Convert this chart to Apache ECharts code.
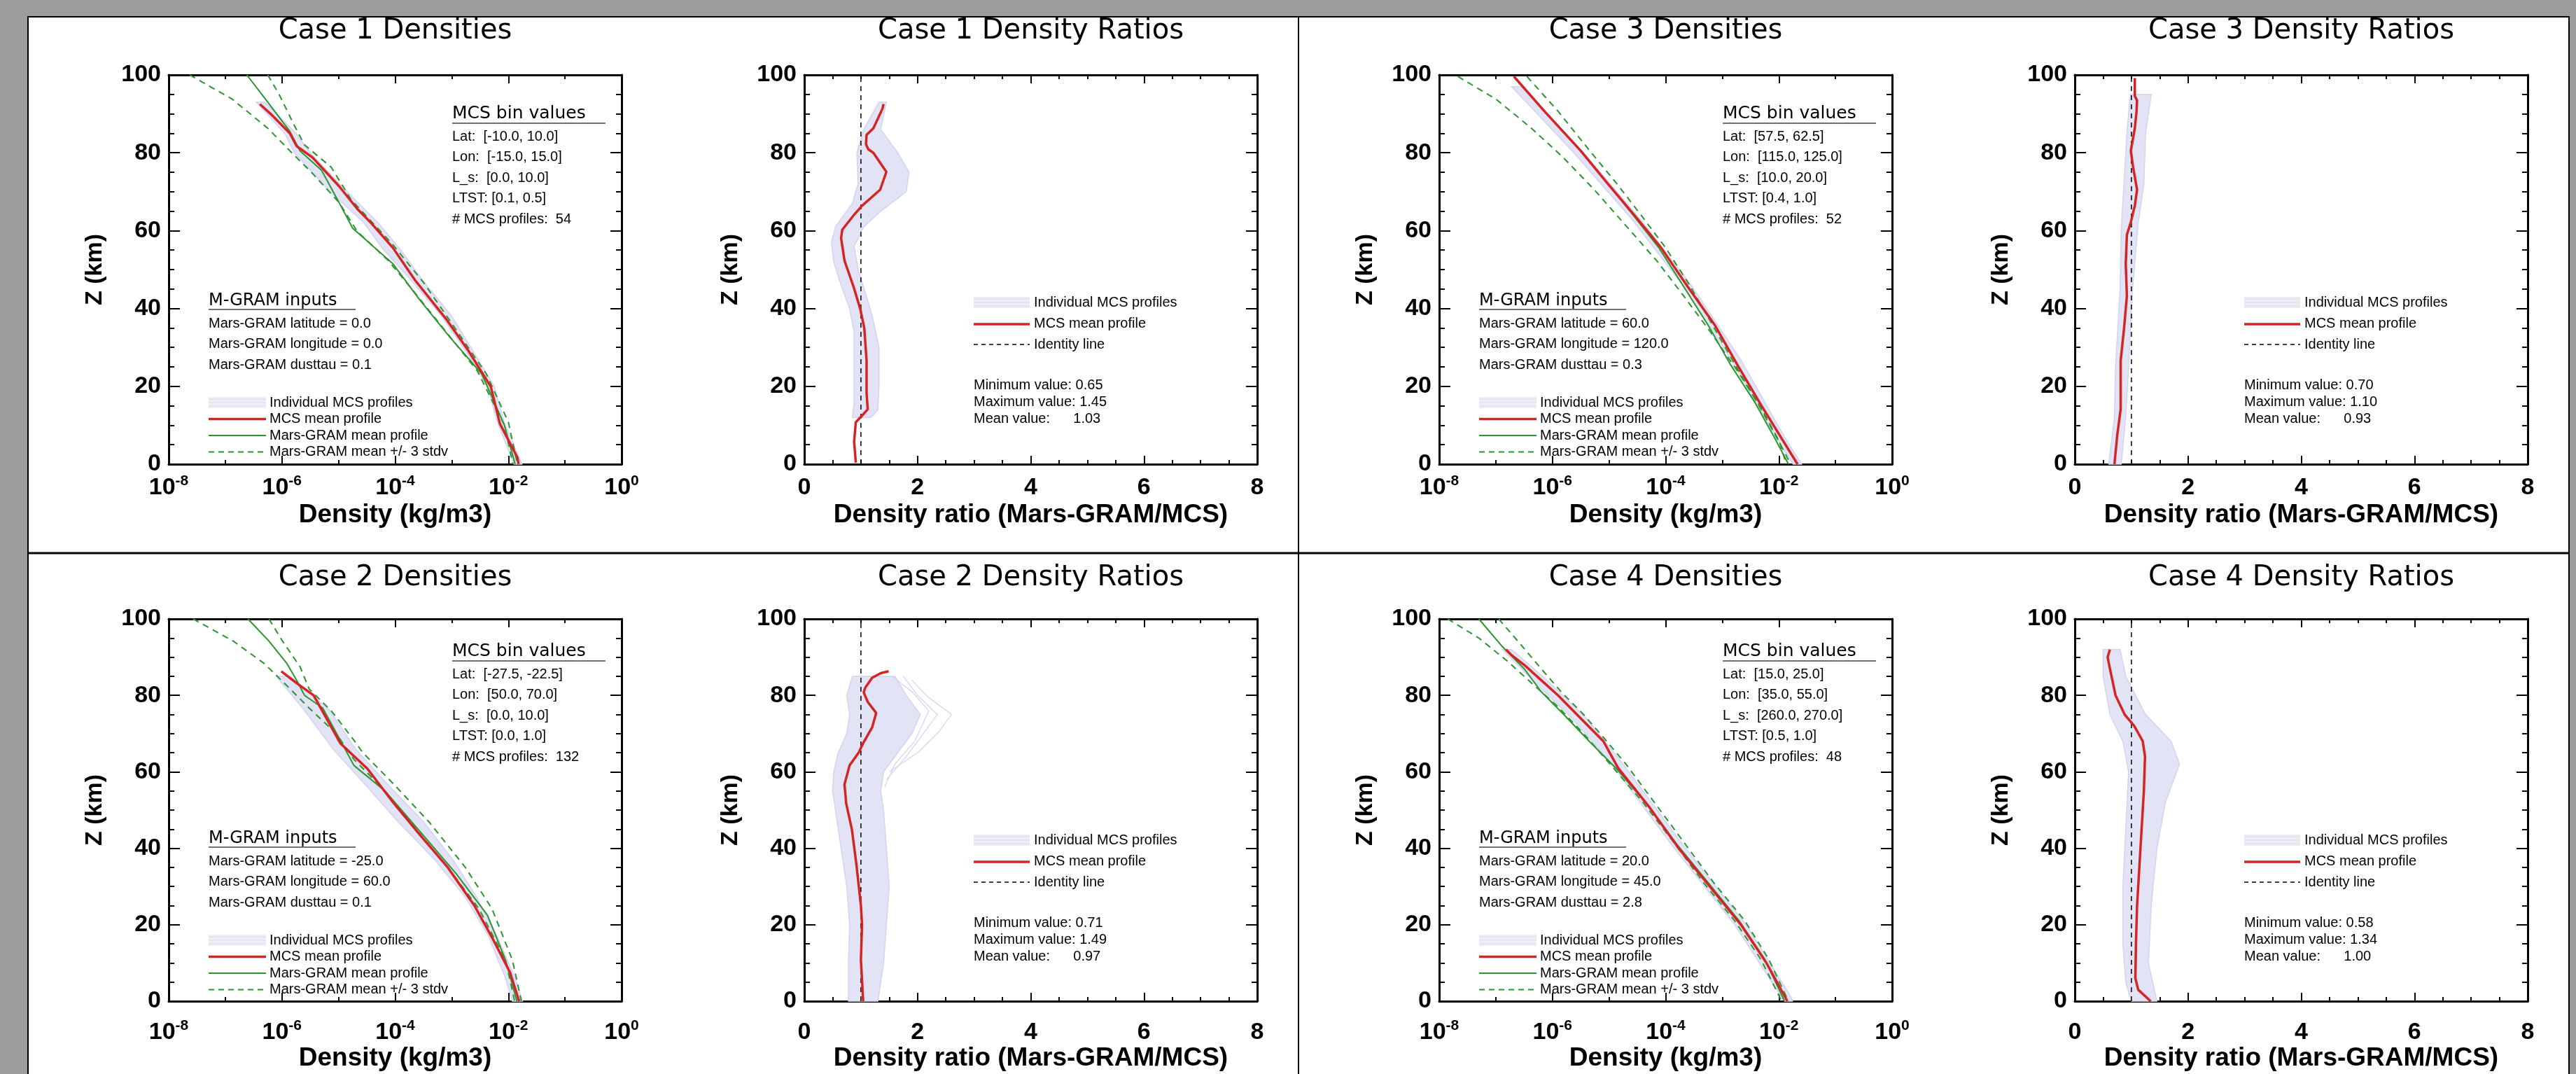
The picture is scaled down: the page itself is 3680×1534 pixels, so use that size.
<!DOCTYPE html>
<html>
<head>
<meta charset="utf-8">
<title>MCS vs Mars-GRAM density comparisons</title>
<script src="https://cdn.jsdelivr.net/npm/echarts@6/dist/echarts.min.js"></script>
<style>
html, body { margin: 0; padding: 0; background: #9c9c9c; }
#chart { width: 3680px; height: 1534px; }
</style>
</head>
<body>
<div id="chart"></div>
<script>
// density panels: [log10 density (kg/m3), altitude (km)]
const case1McsMean = [[-6.39,92.5],[-6.2,90],[-5.86,85],[-5.74,81.7],[-5.46,78.8],[-4.99,71.4],[-4.67,65.6],[-4.44,62.2],[-4.04,55.6],[-3.65,47.3],[-3.1,37.3],[-2.7,29],[-2.31,19.9],[-2.15,10.4],[-1.84,1.7],[-1.82,0]];
const case1GramMean = [[-6.62,100],[-6.25,93],[-5.86,85.5],[-5.68,80.5],[-5.3,75.5],[-4.99,67.2],[-4.75,60.6],[-4.04,51.5],[-3.57,42.3],[-3.02,32.4],[-2.47,23.2],[-2.07,10],[-1.88,0]];
const case1GramHi = [[-6.25,100],[-6.05,95],[-5.78,87],[-5.6,82],[-5.13,76.3],[-4.78,68],[-4.57,64.7],[-4.04,56.4],[-3.49,46.5],[-2.94,34.9],[-2.39,23.2],[-2,10.8],[-1.84,0]];
const case1GramLo = [[-7.63,100],[-6.88,93.8],[-6.25,86.3],[-5.86,80.5],[-5.46,74.7],[-4.99,67.2],[-4.67,59.8],[-4.12,52.3],[-3.65,44],[-3.1,34],[-2.55,24],[-2.07,10],[-1.92,0]];
const case1ProfLeft = [[-6.45,93],[-5.95,85],[-5.78,80],[-5.15,70],[-4.55,62],[-4.2,55],[-3.7,47],[-3.18,38],[-2.75,29],[-2.37,20],[-2.2,11],[-1.9,0]];
const case1ProfRight = [[-6.3,93],[-5.75,85],[-5.5,80],[-4.85,70],[-4.3,62],[-3.9,55],[-3.5,47],[-3,38],[-2.62,29],[-2.25,20],[-2.08,11],[-1.76,0]];

const case2McsMean = [[-6.01,86.3],[-5.75,83.3],[-5.44,80],[-4.97,67.5],[-4.49,60.8],[-4.02,51.7],[-3.55,43.3],[-3.07,35],[-2.6,25],[-2.29,16.7],[-1.97,7.5],[-1.81,0]];
const case2GramMean = [[-6.6,100],[-6.23,94.2],[-5.91,88.3],[-5.75,84.2],[-5.6,80],[-5.28,76.7],[-4.97,68.3],[-4.73,61.7],[-4.18,55],[-3.55,44.2],[-2.92,33.3],[-2.37,22.5],[-2.05,10.8],[-1.85,0]];
const case2GramHi = [[-6.23,100],[-5.99,94.2],[-5.68,87.5],[-5.52,81.7],[-5.12,75.8],[-4.73,68.3],[-4.57,65],[-4.02,56.7],[-3.39,46.7],[-2.76,35],[-2.29,24.2],[-1.93,10.8],[-1.77,0]];
const case2GramLo = [[-7.57,100],[-6.86,94.2],[-6.31,88.3],[-5.91,82.5],[-5.52,76.7],[-5.04,70],[-4.73,63.3],[-4.18,55],[-3.63,45],[-3.07,35],[-2.52,24.2],[-2.05,10.8],[-1.89,0]];
const case2ProfLeft = [[-6.1,85],[-5.6,76],[-5.1,66],[-4.55,57],[-3.95,47],[-3.3,37],[-2.75,27],[-2.35,17],[-2.05,6],[-1.93,0]];
const case2ProfRight = [[-5.85,85],[-5.15,76],[-4.7,66],[-4.15,57],[-3.5,47],[-2.98,37],[-2.55,27],[-2.2,17],[-1.88,6],[-1.75,0]];

const case3McsMean = [[-6.68,99.6],[-6.13,90.5],[-5.5,80.5],[-5.03,72.2],[-4.55,63.9],[-4.08,55.6],[-3.61,45.6],[-3.13,35.7],[-2.74,25.7],[-2.34,15.8],[-1.95,6.6],[-1.67,0]];
const case3GramMean = [[-6.68,99.6],[-6.13,90.5],[-5.5,80.5],[-5.03,72.2],[-4.57,63.9],[-4.12,55.6],[-3.68,45.6],[-3.25,35.7],[-2.86,25.7],[-2.42,15.8],[-2.07,6.6],[-1.83,0]];
const case3GramHi = [[-6.45,99.6],[-5.89,90.5],[-5.34,80.5],[-4.87,72.2],[-4.43,63.9],[-4,55.6],[-3.56,45.6],[-3.17,35.7],[-2.78,25.7],[-2.38,15.8],[-2.03,6.6],[-1.79,0]];
const case3GramLo = [[-7.67,99.6],[-7,93.8],[-6.37,86.3],[-5.81,78.8],[-5.26,70.5],[-4.71,61.4],[-4.16,52.3],[-3.68,43.2],[-3.21,34],[-2.74,24.1],[-2.3,14.1],[-1.99,5.8],[-1.87,0]];
const case3ProfLeft = [[-6.72,97],[-5.62,80],[-4.6,63],[-3.7,46],[-2.85,27],[-2.05,7],[-1.75,0]];
const case3ProfRight = [[-6.55,97],[-5.45,80],[-4.45,63],[-3.55,46],[-2.68,27],[-1.9,7],[-1.6,0]];

const case4McsMean = [[-6.82,92],[-6.72,90.5],[-6.5,88],[-6.2,84],[-5.9,80],[-5.5,74],[-5.1,68],[-4.84,61],[-4.3,51],[-3.77,40],[-3.22,30],[-2.67,20],[-2.22,10],[-1.85,0]];
const case4GramMean = [[-7.3,100],[-6.9,93],[-6.5,87],[-6.2,81],[-5.8,75],[-5.35,68],[-4.88,61],[-4.3,51],[-3.8,41],[-3.25,31],[-2.7,21],[-2.25,11],[-1.9,0]];
const case4GramHi = [[-6.95,100],[-6.6,94],[-6.2,87],[-5.85,81],[-5.45,75],[-5.1,69],[-4.7,62],[-4.2,52],[-3.7,42],[-3.15,31],[-2.6,21],[-2.18,11],[-1.83,0]];
const case4GramLo = [[-7.85,100],[-7.3,95],[-6.8,89],[-6.35,83],[-5.9,77],[-5.45,70],[-4.98,62],[-4.4,52],[-3.88,42],[-3.33,31],[-2.78,21],[-2.32,11],[-1.95,0]];
const case4ProfLeft = [[-6.88,92],[-6.35,84],[-5.65,74],[-4.95,62],[-3.9,41],[-2.78,20],[-1.95,1],[-1.9,0]];
const case4ProfRight = [[-6.72,92],[-6.1,84],[-5.4,74],[-4.75,62],[-3.7,41],[-2.58,20],[-1.78,1],[-1.76,0]];

// ratio panels: [Mars-GRAM/MCS, altitude (km)]
const case1RatioMean = [[1.4,92.5],[1.38,91.3],[1.22,86.3],[1.1,84.6],[1.09,82.2],[1.13,80.9],[1.22,80],[1.45,75.1],[1.34,70.5],[1.02,66.4],[0.87,63.9],[0.67,60.2],[0.65,58.1],[0.71,52.3],[0.87,45.6],[0.99,39.8],[1.06,34.9],[1.1,26.6],[1.1,18.3],[1.12,14.1],[0.99,12],[0.91,10.8],[0.88,5.8],[0.91,0.4]];
const case1RatioLeft = [[1.32,93],[1.05,86],[0.93,80],[0.95,72],[0.85,67],[0.55,61],[0.48,57],[0.52,52],[0.65,46],[0.8,40],[0.88,34],[0.88,25],[0.88,16],[0.85,12]];
const case1RatioRight = [[1.45,93],[1.35,86],[1.65,80],[1.85,75],[1.8,70],[1.35,65],[1.05,61],[0.88,56],[0.95,50],[1.08,44],[1.2,38],[1.32,30],[1.32,20],[1.3,14],[1.18,12]];

const case2RatioMean = [[1.49,86.3],[1.35,85.8],[1.2,84.6],[1.08,82.1],[1.05,80.8],[1.12,78.3],[1.27,75.4],[1.2,71.7],[1.04,67.5],[0.96,65],[0.8,61.7],[0.71,56.7],[0.74,51.7],[0.84,45],[0.92,35.8],[1,25],[1.02,20],[1,10.8],[1.04,0]];
const case2RatioLeft = [[0.85,85],[0.75,80],[0.8,75],[0.75,70],[0.6,65],[0.52,60],[0.5,55],[0.55,50],[0.65,40],[0.75,30],[0.8,20],[0.78,10],[0.78,0]];
const case2RatioRight = [[1.6,85],[1.8,80],[2.05,75],[1.9,70],[1.65,65],[1.4,60],[1.35,55],[1.4,50],[1.45,40],[1.5,30],[1.45,20],[1.4,10],[1.3,0]];
const case2RatioStrandA = [[1.75,85],[2.0,80],[2.35,75],[2.1,70],[1.8,64],[1.45,58]];
const case2RatioStrandB = [[1.9,84],[2.15,80],[2.6,75],[2.35,70],[2.0,65],[1.5,60]];
const case2RatioStrandC = [[1.55,85],[1.9,81],[2.2,76],[1.95,68],[1.6,62],[1.42,56]];

const case3RatioMean = [[1.06,99.2],[1.06,94.6],[1.1,93.4],[1.09,90.5],[1.06,86.3],[0.99,80.5],[1.03,76.3],[1.1,70.5],[1.06,66.4],[0.99,62.2],[0.92,58.9],[0.9,51.5],[0.92,43.2],[0.87,34.9],[0.81,26.6],[0.81,18.3],[0.81,14.1],[0.75,7.5],[0.7,0]];
const case3RatioLeft = [[0.98,95],[0.92,85],[0.88,75],[0.82,60],[0.8,45],[0.72,25],[0.7,12],[0.6,0]];
const case3RatioRight = [[1.35,95],[1.25,85],[1.22,72],[1.12,62],[1.02,45],[0.95,25],[0.9,12],[0.82,0]];

const case4RatioMean = [[0.62,92],[0.58,90],[0.62,87],[0.72,80],[0.88,75],[1.05,72],[1.2,68],[1.24,64],[1.22,55],[1.18,45],[1.14,35],[1.1,25],[1.08,15],[1.07,6],[1.12,3],[1.34,0]];
const case4RatioLeft = [[0.5,92],[0.5,85],[0.62,75],[0.85,68],[0.95,60],[0.9,45],[0.85,30],[0.85,15],[0.9,5],[1,0]];
const case4RatioRight = [[0.8,92],[0.9,85],[1.25,75],[1.7,68],[1.85,62],[1.6,52],[1.45,40],[1.35,25],[1.3,10],[1.45,0]];

// annotation texts
const case1Bins = ['Lat:  [-10.0, 10.0]', 'Lon:  [-15.0, 15.0]', 'L_s:  [0.0, 10.0]', 'LTST: [0.1, 0.5]', '# MCS profiles:  54'];
const case2Bins = ['Lat:  [-27.5, -22.5]', 'Lon:  [50.0, 70.0]', 'L_s:  [0.0, 10.0]', 'LTST: [0.0, 1.0]', '# MCS profiles:  132'];
const case3Bins = ['Lat:  [57.5, 62.5]', 'Lon:  [115.0, 125.0]', 'L_s:  [10.0, 20.0]', 'LTST: [0.4, 1.0]', '# MCS profiles:  52'];
const case4Bins = ['Lat:  [15.0, 25.0]', 'Lon:  [35.0, 55.0]', 'L_s:  [260.0, 270.0]', 'LTST: [0.5, 1.0]', '# MCS profiles:  48'];
const case1Inputs = ['0.0', '0.0', '0.1'];
const case2Inputs = ['-25.0', '60.0', '0.1'];
const case3Inputs = ['60.0', '120.0', '0.3'];
const case4Inputs = ['20.0', '45.0', '2.8'];
const case1Stats = ['0.65', '1.45', '1.03'];
const case2Stats = ['0.71', '1.49', '0.97'];
const case3Stats = ['0.70', '1.10', '0.93'];
const case4Stats = ['0.58', '1.34', '1.00'];

const RED = '#d42424', GREEN = '#2a9630', LAV = '#e3e3f6', LAV_EDGE = '#d3d3ef';
const SMALL = '"Liberation Sans", Arial, sans-serif';
const BIG = '"DejaVu Sans", sans-serif';

const cases = [
  { n: 1, col: 0, row: 0, mean: case1McsMean, gram: case1GramMean, hi: case1GramHi, lo: case1GramLo, pl: case1ProfLeft, pr: case1ProfRight,
    ratio: case1RatioMean, rl: case1RatioLeft, rr: case1RatioRight, strands: [], bins: case1Bins, inputs: case1Inputs, stats: case1Stats },
  { n: 3, col: 1, row: 0, mean: case3McsMean, gram: case3GramMean, hi: case3GramHi, lo: case3GramLo, pl: case3ProfLeft, pr: case3ProfRight,
    ratio: case3RatioMean, rl: case3RatioLeft, rr: case3RatioRight, strands: [], bins: case3Bins, inputs: case3Inputs, stats: case3Stats },
  { n: 2, col: 0, row: 1, mean: case2McsMean, gram: case2GramMean, hi: case2GramHi, lo: case2GramLo, pl: case2ProfLeft, pr: case2ProfRight,
    ratio: case2RatioMean, rl: case2RatioLeft, rr: case2RatioRight, strands: [case2RatioStrandA, case2RatioStrandB, case2RatioStrandC],
    bins: case2Bins, inputs: case2Inputs, stats: case2Stats },
  { n: 4, col: 1, row: 1, mean: case4McsMean, gram: case4GramMean, hi: case4GramHi, lo: case4GramLo, pl: case4ProfLeft, pr: case4ProfRight,
    ratio: case4RatioMean, rl: case4RatioLeft, rr: case4RatioRight, strands: [], bins: case4Bins, inputs: case4Inputs, stats: case4Stats }
];

// layout (pixels)
const quadLeft = [40, 1855];
const plotTop = [107, 884];
const plotH = [556, 546];
const textTop = [81, 849];
const titleY = [45, 826];
const labelMargin = [14, 25];
const nameGap = [54, 59];
const PW = 647;

const tickLabel = { fontFamily: SMALL, fontWeight: 'bold', fontSize: 34, color: '#000' };
const nameStyle = { fontFamily: SMALL, fontWeight: 'bold', fontSize: 37, color: '#000' };

function xAxis(g, dens, mirror, row) {
  return {
    type: 'value', gridIndex: g, position: mirror ? 'top' : 'bottom',
    min: dens ? -8 : 0, max: dens ? 0 : 8, interval: 2,
    axisLine: { onZero: false, lineStyle: { color: '#000', width: 3 } },
    axisTick: { inside: true, length: 12, lineStyle: { color: '#000', width: 2 } },
    minorTick: { show: true, splitNumber: dens ? 2 : 4, length: 6, lineStyle: { color: '#000', width: 2 } },
    splitLine: { show: false }, minorSplitLine: { show: false },
    axisLabel: mirror ? { show: false } : (dens ? {
      margin: labelMargin[row],
      formatter: v => '{b|10}{s|' + v + '}',
      rich: {
        b: { fontFamily: SMALL, fontWeight: 'bold', fontSize: 34, lineHeight: 40, color: '#000' },
        s: { fontFamily: SMALL, fontWeight: 'bold', fontSize: 21, lineHeight: 22, verticalAlign: 'top', color: '#000' }
      }
    } : Object.assign({ margin: labelMargin[row] + 3 }, tickLabel)),
    name: mirror ? '' : (dens ? 'Density (kg/m3)' : 'Density ratio (Mars-GRAM/MCS)'),
    nameLocation: 'middle', nameGap: nameGap[row], nameTextStyle: nameStyle
  };
}

function yAxis(g, mirror) {
  return {
    type: 'value', gridIndex: g, position: mirror ? 'right' : 'left',
    min: 0, max: 100, interval: 20,
    axisLine: { onZero: false, lineStyle: { color: '#000', width: 3 } },
    axisTick: { inside: true, length: 16, lineStyle: { color: '#000', width: 2 } },
    minorTick: { show: true, splitNumber: 4, length: 8, lineStyle: { color: '#000', width: 2 } },
    splitLine: { show: false }, minorSplitLine: { show: false },
    axisLabel: mirror ? { show: false } : Object.assign({ margin: 11 }, tickLabel),
    name: mirror ? '' : 'Z (km)', nameLocation: 'middle', nameGap: 88, nameRotate: 90,
    nameTextStyle: { fontFamily: SMALL, fontWeight: 'bold', fontSize: 34, color: '#000' }
  };
}

function line(g, data, color, width, dash, z) {
  return {
    type: 'line', xAxisIndex: 2 * g, yAxisIndex: 2 * g, data: data,
    symbol: 'none', showSymbol: false, silent: true, z: z,
    lineStyle: { color: color, width: width, type: dash || 'solid' }
  };
}

function band(g, left, right) {
  return {
    type: 'custom', xAxisIndex: 2 * g, yAxisIndex: 2 * g, data: left, silent: true, z: 1,
    renderItem: function (params, api) {
      if (params.dataIndex !== 0) return null;
      const pts = left.map(p => api.coord(p)).concat(right.slice().reverse().map(p => api.coord(p)));
      return { type: 'polygon', shape: { points: pts }, style: { fill: LAV, stroke: LAV_EDGE, lineWidth: 1.5 } };
    }
  };
}

function text(x, y, s, size, family, weight) {
  return { type: 'text', x: x, y: y, z: 50, silent: true,
    style: { text: s, fontSize: size, fontFamily: family, fontWeight: weight || 'normal', fill: '#000',
      align: 'left', verticalAlign: 'middle', textAlign: 'left', textVerticalAlign: 'middle' } };
}

function seg(x1, y1, x2, y2, color, width, dash) {
  return { type: 'line', z: 50, silent: true, shape: { x1: x1, y1: y1, x2: x2, y2: y2 },
    style: { stroke: color, lineWidth: width, lineDash: dash || null } };
}

function profileSwatch(x, y, w) {
  return [
    { type: 'rect', z: 49, silent: true, shape: { x: x, y: y - 8, width: w, height: 16 }, style: { fill: '#eeeef6' } },
    seg(x, y - 5, x + w, y - 5, '#dadaea', 1),
    seg(x, y, x + w, y, '#dadaea', 1),
    seg(x, y + 5, x + w, y + 5, '#dadaea', 1)
  ];
}

const grids = [], xAxes = [], yAxes = [], series = [], titles = [];
const graphics = [
  { type: 'rect', z: -10, silent: true, shape: { x: 40, y: 24, width: 3630, height: 1530 }, style: { fill: '#fff', stroke: '#000', lineWidth: 2 } },
  seg(1855, 24, 1855, 1534, '#000', 2),
  seg(40, 790, 3670, 790, '#000', 3)
];

cases.forEach(function (c, k) {
  const T = plotTop[c.row], H = plotH[c.row], A = textTop[c.row];
  const dL = quadLeft[c.col] + 201;
  const rL = quadLeft[c.col] + 1109;
  const gd = 2 * k, gr = 2 * k + 1;

  grids.push({ left: dL, top: T, width: PW, height: H });
  grids.push({ left: rL, top: T, width: PW, height: H });
  xAxes.push(xAxis(gd, true, false, c.row), xAxis(gd, true, true, c.row), xAxis(gr, false, false, c.row), xAxis(gr, false, true, c.row));
  yAxes.push(yAxis(gd, false), yAxis(gd, true), yAxis(gr, false), yAxis(gr, true));

  const tStyle = { fontFamily: BIG, fontWeight: 'normal', fontSize: 40, lineHeight: 46, color: '#000' };
  titles.push({ text: 'Case ' + c.n + ' Densities', left: dL + PW / 2, top: titleY[c.row] - 23, textAlign: 'center', padding: 0, textStyle: tStyle });
  titles.push({ text: 'Case ' + c.n + ' Density Ratios', left: rL + PW / 2, top: titleY[c.row] - 23, textAlign: 'center', padding: 0, textStyle: tStyle });

  // density panel
  series.push(band(gd, c.pl, c.pr));
  series.push(line(gd, c.lo, GREEN, 2, [9, 7], 3));
  series.push(line(gd, c.hi, GREEN, 2, [9, 7], 3));
  series.push(line(gd, c.gram, GREEN, 2, null, 4));
  series.push(line(gd, c.mean, RED, 3.5, null, 5));

  // ratio panel
  series.push(band(gr, c.rl, c.rr));
  c.strands.forEach(s => series.push(line(gr, s, LAV_EDGE, 1.2, null, 2)));
  series.push(line(gr, [[1, 0], [1, 100]], '#000', 1.5, [7, 6], 3));
  series.push(line(gr, c.ratio, RED, 3.5, null, 5));

  // density annotations
  graphics.push(text(dL + 405, A + 81, 'MCS bin values', 25, BIG));
  graphics.push(seg(dL + 405, A + 95, dL + 624, A + 95, '#444', 1.5));
  c.bins.forEach((s, i) => graphics.push(text(dL + 405, A + 114 + i * 29.5, s, 20, SMALL)));
  graphics.push(text(dL + 57, A + 349, 'M-GRAM inputs', 24, BIG));
  graphics.push(seg(dL + 57, A + 361, dL + 267, A + 361, '#444', 1.5));
  ['latitude', 'longitude', 'dusttau'].forEach((s, i) =>
    graphics.push(text(dL + 57, A + 381 + i * 29.5, 'Mars-GRAM ' + s + ' = ' + c.inputs[i], 20, SMALL)));
  const lx = dL + 57, lw = 82, tx = dL + 144, ly = A + 494;
  profileSwatch(lx, ly, lw).forEach(e => graphics.push(e));
  graphics.push(seg(lx, ly + 23.5, lx + lw, ly + 23.5, RED, 3.5));
  graphics.push(seg(lx, ly + 47, lx + lw, ly + 47, GREEN, 2));
  graphics.push(seg(lx, ly + 70.5, lx + lw, ly + 70.5, GREEN, 2, [8, 6]));
  ['Individual MCS profiles', 'MCS mean profile', 'Mars-GRAM mean profile', 'Mars-GRAM mean +/- 3 stdv'].forEach((s, i) =>
    graphics.push(text(tx, ly + i * 23.5, s, 20, SMALL)));

  // ratio annotations
  const rx = rL + 242, rw = 80, rtx = rL + 328;
  profileSwatch(rx, A + 351, rw).forEach(e => graphics.push(e));
  graphics.push(seg(rx, A + 382, rx + rw, A + 382, RED, 3.5));
  graphics.push(seg(rx, A + 411, rx + rw, A + 411, '#000', 1.5, [6, 5]));
  ['Individual MCS profiles', 'MCS mean profile', 'Identity line'].forEach((s, i) =>
    graphics.push(text(rtx, A + 351 + i * 30, s, 20, SMALL)));
  ['Minimum value: ' + c.stats[0], 'Maximum value: ' + c.stats[1], 'Mean value:      ' + c.stats[2]].forEach((s, i) =>
    graphics.push(text(rx, A + 469 + i * 24, s, 20, SMALL)));
});

const chart = echarts.init(document.getElementById('chart'), null, { renderer: 'canvas' });
chart.setOption({
  backgroundColor: '#9c9c9c',
  animation: false,
  title: titles,
  grid: grids,
  xAxis: xAxes,
  yAxis: yAxes,
  series: series,
  graphic: { elements: graphics }
});
</script>
</body>
</html>
